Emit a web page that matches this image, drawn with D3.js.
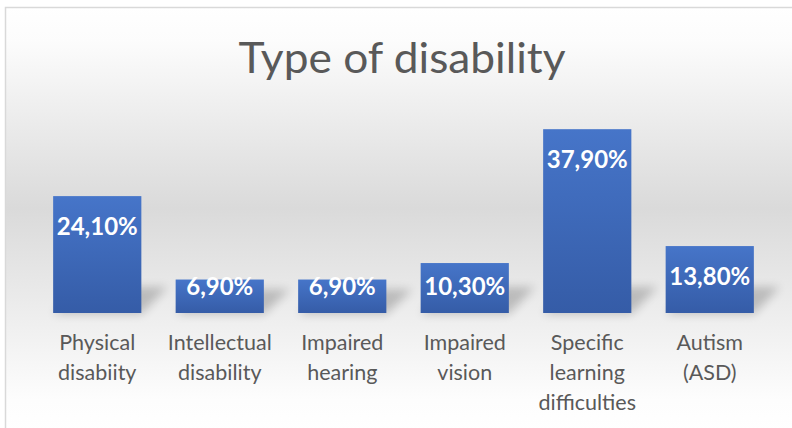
<!DOCTYPE html>
<html lang="en">
<head>
<meta charset="UTF-8">
<title>Type of disability</title>
<script src="https://d3js.org/d3.v7.min.js"></script>
<style>
  html, body { margin: 0; padding: 0; background: #fff; }
  svg { display: block; }
</style>
</head>
<body>
<div id="chart"></div>
<script>
// chart data
const categories = ["Physical\ndisabiity", "Intellectual\ndisability", "Impaired\nhearing",
                    "Impaired\nvision", "Specific\nlearning\ndifficulties", "Autism\n(ASD)"];
const values = [24.1, 6.9, 6.9, 10.3, 37.9, 13.8];
const yDomain = [0, 40];
const title = "Type of disability";

const width = 792, height = 428;
const base = 313, plotTop = 119;

const svg = d3.select("#chart").append("svg")
  .attr("width", width)
  .attr("height", height);

const defs = svg.append("defs");

// background gradient, white -> grey -> white
const bg = defs.append("linearGradient")
  .attr("id", "bg").attr("x1", 0).attr("y1", 0).attr("x2", 0).attr("y2", 1);
bg.append("stop").attr("offset", "0%").attr("stop-color", "#ffffff");
bg.append("stop").attr("offset", "8%").attr("stop-color", "#fcfcfc");
bg.append("stop").attr("offset", "47%").attr("stop-color", "#dadada");
bg.append("stop").attr("offset", "92%").attr("stop-color", "#fdfdfd");
bg.append("stop").attr("offset", "100%").attr("stop-color", "#ffffff");

// bar fill gradient
const barGrad = defs.append("linearGradient")
  .attr("id", "barFill").attr("x1", 0).attr("y1", 0).attr("x2", 0).attr("y2", 1);
barGrad.append("stop").attr("offset", "0%").attr("stop-color", "#4675c9");
barGrad.append("stop").attr("offset", "100%").attr("stop-color", "#355ca7");

defs.append("filter").attr("id", "blur")
  .attr("x", "-50%").attr("y", "-50%").attr("width", "200%").attr("height", "200%")
  .append("feGaussianBlur").attr("stdDeviation", 5);

// chart area + border
svg.append("rect")
  .attr("x", 5).attr("y", 7)
  .attr("width", width).attr("height", height)
  .attr("fill", "url(#bg)");
svg.append("path")
  .attr("d", `M5.5,${height} V7.5 H${width}`)
  .attr("fill", "none")
  .attr("stroke", "#d9d9d9")
  .attr("stroke-width", 1.5);

// title, squeezed a little to match the narrow original face
const titleText = svg.append("text")
  .attr("text-anchor", "middle")
  .attr("font-family", "Lato, 'Noto Sans', sans-serif")
  .attr("font-weight", 400)
  .attr("font-size", 43)
  .attr("fill", "#595959")
  .text(title);
const tw = titleText.node().getComputedTextLength();
titleText.attr("transform", `translate(402,73) scale(${327 / tw},1)`);

// scales
const x = d3.scaleBand()
  .domain(categories)
  .range([36, 771])
  .paddingInner(0.28)
  .paddingOuter(0.14);

const y = d3.scaleLinear()
  .domain(yDomain)
  .range([base, plotTop]);

const commaFmt = d3.formatLocale({decimal: ",", thousands: ".", grouping: [3], currency: ["", ""]}).format(".2f");

const data = categories.map((c, i) => ({cat: c, value: values[i]}));

// soft perspective shadows
svg.append("g").selectAll("path")
  .data(data)
  .join("path")
  .attr("d", d => {
    const x0 = x(d.cat), x1 = x0 + x.bandwidth();
    const h = Math.min(26, (base - y(d.value)) * 0.7);
    return `M${x0},${base + 1} L${x1},${base + 1} L${x1 + 26},${base - h} L${x0 + 26},${base - h} Z`;
  })
  .attr("fill", "#000")
  .attr("opacity", 0.2)
  .attr("filter", "url(#blur)");

// bars
svg.append("g").selectAll("rect")
  .data(data)
  .join("rect")
  .attr("x", d => x(d.cat))
  .attr("y", d => y(d.value))
  .attr("width", x.bandwidth())
  .attr("height", d => base - y(d.value))
  .attr("fill", "url(#barFill)");

// value labels (inside end)
svg.append("g").selectAll("text")
  .data(data)
  .join("text")
  .attr("x", d => x(d.cat) + x.bandwidth() / 2)
  .attr("y", d => Math.min(y(d.value) + 30, base - 27))
  .attr("dy", "0.36em")
  .attr("text-anchor", "middle")
  .attr("font-family", "Lato, 'Noto Sans', sans-serif")
  .attr("font-weight", 700)
  .attr("font-size", 24)
  .attr("fill", "#ffffff")
  .text(d => commaFmt(d.value) + "%");

// category labels
const xAxis = svg.append("g")
  .attr("transform", `translate(0,${base})`)
  .call(d3.axisBottom(x).tickSize(0).tickFormat(""));
xAxis.select(".domain").remove();

xAxis.selectAll(".tick")
  .append("text")
  .attr("text-anchor", "middle")
  .attr("font-family", "Lato, 'Noto Sans', sans-serif")
  .attr("font-size", 21.5)
  .attr("fill", "#595959")
  .selectAll("tspan")
  .data(d => d.split("\n"))
  .join("tspan")
  .attr("x", 0)
  .attr("y", (d, i) => 37 + i * 30)
  .text(d => d);
</script>
</body>
</html>
